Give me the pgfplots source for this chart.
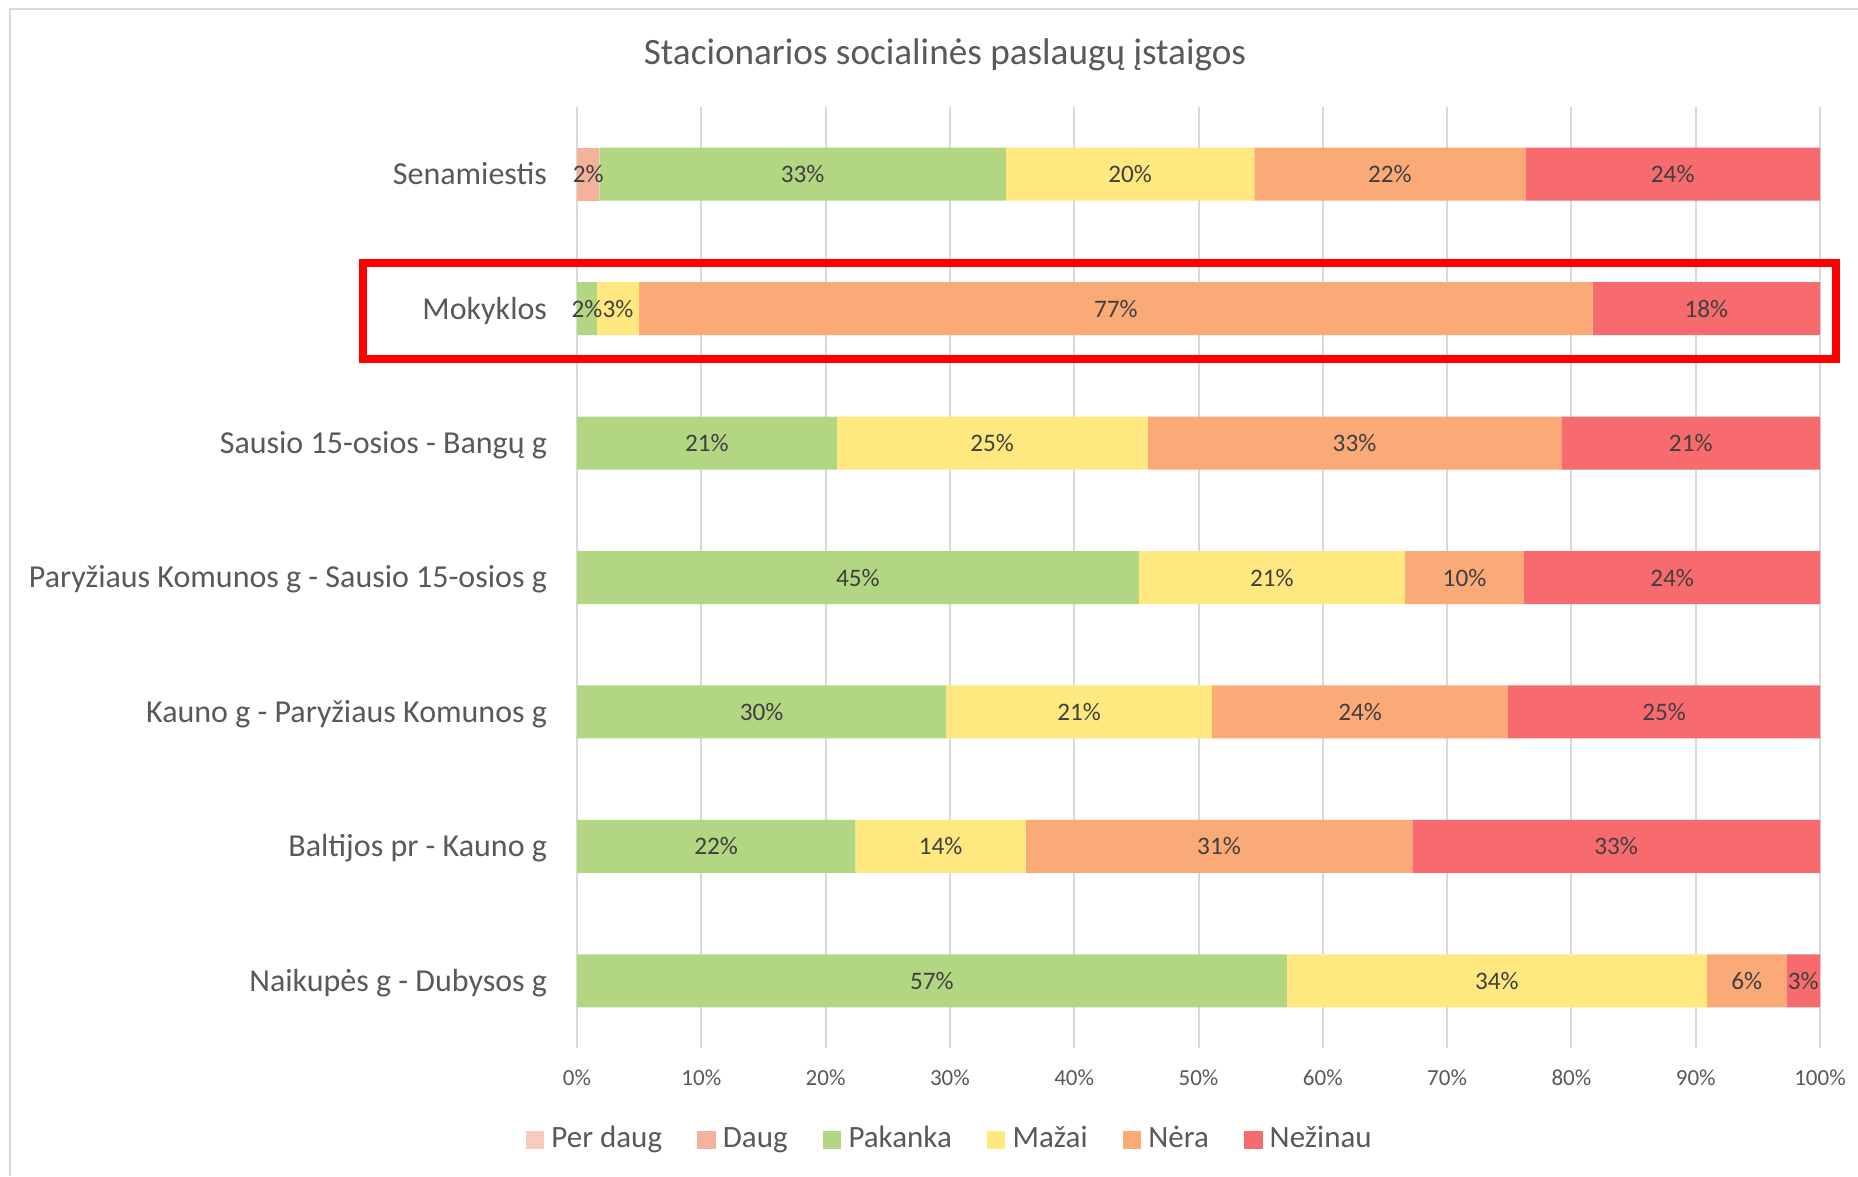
\documentclass[border=0pt]{standalone}
\usepackage{fontspec}
\setmainfont{Carlito}
\usepackage{pgfplots}
\pgfplotsset{compat=1.18}
\definecolor{perdaug}{HTML}{F8CBBD}
\definecolor{daug}{HTML}{F2B29B}
\definecolor{pakanka}{HTML}{B3D683}
\definecolor{mazai}{HTML}{FFE880}
\definecolor{nera}{HTML}{FAAA76}
\definecolor{nezinau}{HTML}{F76A6E}
\definecolor{textgray}{HTML}{595959}
\definecolor{labelgray}{HTML}{404040}
\definecolor{gridgray}{HTML}{D9D9D9}
\definecolor{framegray}{HTML}{D9D9D9}
\pgfplotsset{sq/.style={legend image code/.code={\fill[##1] (0pt,-2.3pt) rectangle (4.6pt,2.3pt); \path (5.2pt,0pt);}}}
\begin{document}
\begin{tikzpicture}
\useasboundingbox (0,0) rectangle (464.5pt,294pt);
\fill[white] (0,0) rectangle (464.5pt,294pt);
\draw[framegray, line width=0.6pt] (2.5pt,0) -- (2.5pt,291.75pt) -- (464.5pt,291.75pt);
\begin{axis}[
 at={(144.25pt,32pt)}, anchor=south west,
 scale only axis, width=310.75pt, height=235.25pt,
 xbar stacked, bar width=13.25pt,
 xmin=0, xmax=100, ymin=-0.5, ymax=6.5, y dir=reverse,
 ytick={0,...,6},
 yticklabels={Senamiestis,Mokyklos,Sausio 15-osios - Bangų g,Paryžiaus Komunos g - Sausio 15-osios g,Kauno g - Paryžiaus Komunos g,Baltijos pr - Kauno g,Naikupės g - Dubysos g},
 xtick={0,10,...,100},
 xticklabel={\pgfmathprintnumber{\tick}\%},
 /pgf/number format/assume math mode=true,
 xmajorgrids, major grid style={color=gridgray, line width=0.5pt},
 axis line style={draw=none},
 major tick length=0pt,
 tick style={draw=none},
 yticklabel style={font=\fontsize{8.0}{9}\selectfont, text=textgray, anchor=base east, inner sep=0pt, xshift=-7.3pt, yshift=-2.6pt},
 xticklabel style={font=\fontsize{5.75}{7}\selectfont, text=textgray, anchor=base, inner sep=0pt, yshift=-9.3pt},
 nodes near coords, point meta=explicit symbolic,
 every node near coord/.append style={font=\fontsize{6.3}{7}\selectfont, text=labelgray, anchor=center, inner sep=0pt},
 legend columns=6,
 legend style={at={(0.301,-0.098)}, anchor=center, draw=none, fill=none, font=\fontsize{7.75}{9}\selectfont, text=textgray, nodes={inner sep=1.2pt}, /tikz/every even column/.append style={column sep=7.6pt}},
 clip=false,
]
\addplot[fill=perdaug, draw=none, sq] coordinates {(0,0) [{}] (0,1) [{}] (0,2) [{}] (0,3) [{}] (0,4) [{}] (0,5) [{}] (0,6) [{}]};
\addlegendentry{Per daug}
\addplot[fill=daug, draw=none, sq] coordinates {(1.8,0) [2\%] (0,1) [{}] (0,2) [{}] (0,3) [{}] (0,4) [{}] (0,5) [{}] (0,6) [{}]};
\addlegendentry{Daug}
\addplot[fill=pakanka, draw=none, sq] coordinates {(32.7,0) [33\%] (1.6,1) [2\%] (20.9,2) [21\%] (45.2,3) [45\%] (29.7,4) [30\%] (22.4,5) [22\%] (57.1,6) [57\%]};
\addlegendentry{Pakanka}
\addplot[fill=mazai, draw=none, sq] coordinates {(20.0,0) [20\%] (3.4,1) [3\%] (25.0,2) [25\%] (21.4,3) [21\%] (21.4,4) [21\%] (13.7,5) [14\%] (33.8,6) [34\%]};
\addlegendentry{Mažai}
\addplot[fill=nera, draw=none, sq] coordinates {(21.8,0) [22\%] (76.7,1) [77\%] (33.3,2) [33\%] (9.6,3) [10\%] (23.8,4) [24\%] (31.1,5) [31\%] (6.4,6) [6\%]};
\addlegendentry{Nėra}
\addplot[fill=nezinau, draw=none, sq] coordinates {(23.7,0) [24\%] (18.3,1) [18\%] (20.8,2) [21\%] (23.8,3) [24\%] (25.1,4) [25\%] (32.8,5) [33\%] (2.7,6) [3\%]};
\addlegendentry{Nežinau}
\end{axis}
\node[font=\fontsize{9.3}{11}\selectfont, text=textgray] at (236.25pt,280.4pt) {Stacionarios socialinės paslaugų įstaigos};
\draw[red, line width=2pt] (90.75pt,204.25pt) rectangle (459pt,228.25pt);
\end{tikzpicture}
\end{document}
